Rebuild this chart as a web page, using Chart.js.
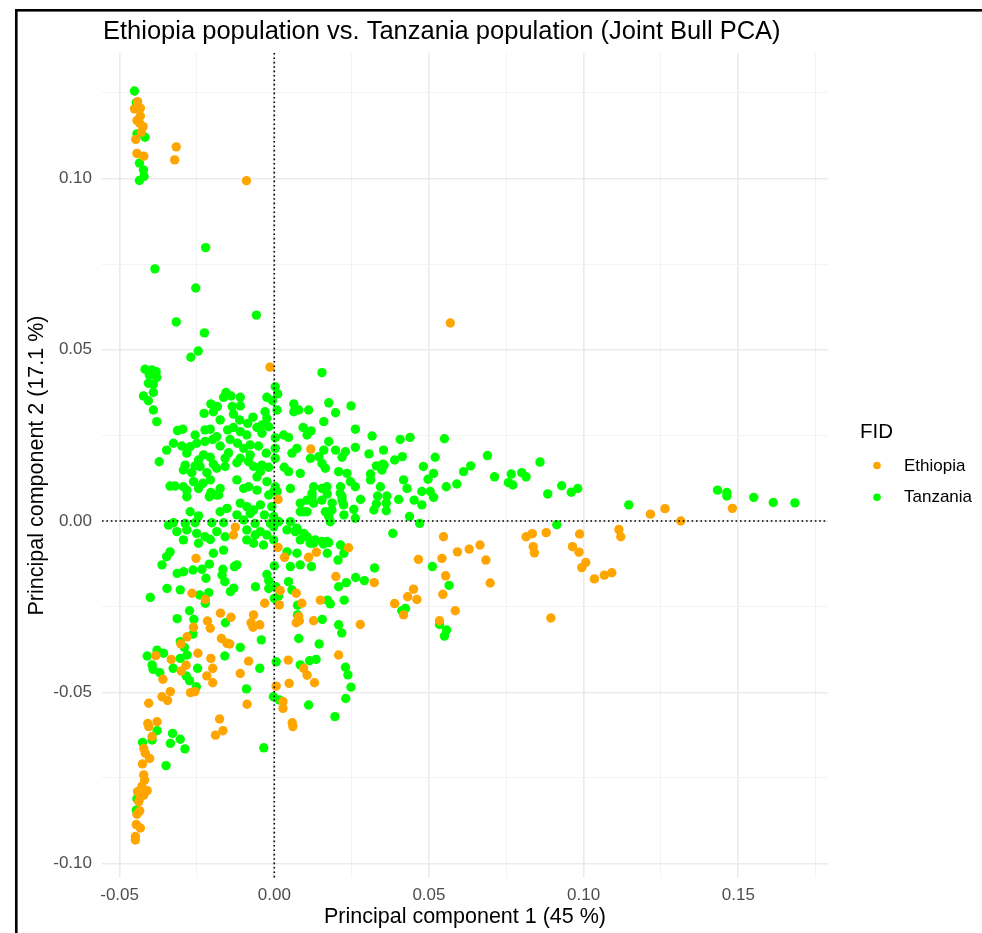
<!DOCTYPE html>
<html>
<head>
<meta charset="utf-8">
<script src="https://cdn.jsdelivr.net/npm/chart.js@4.4.1/dist/chart.umd.min.js"></script>
<style>
  html, body { margin: 0; padding: 0; background: #fff; }
  canvas { display: block; }
</style>
</head>
<body>
<canvas id="pca" width="982" height="933"></canvas>
<script>
// [PC1, PC2] per sample
const ethiopia = [
  [-0.0442,0.1224],[-0.0452,0.1203],[-0.0433,0.1205],[-0.0433,0.1182],[-0.0444,0.1169],[-0.0435,0.1161],
  [-0.0424,0.1151],[-0.0430,0.1135],[-0.0448,0.1114],[-0.0444,0.1073],[-0.0422,0.1065],[-0.0317,0.1092],
  [-0.0322,0.1054],[-0.0090,0.0993],[0.0569,0.0578],
  [-0.0014,0.0449],[0.0118,0.0210],[0.0012,0.0063],[-0.0126,-0.0018],[-0.0132,-0.0041],[0.0012,-0.0077],
  [0.0136,-0.0091],[0.0033,-0.0106],[0.0111,-0.0106],[-0.0253,-0.0109],[0.0240,-0.0078],
  [0.0547,-0.0046],[0.0592,-0.0090],[0.0630,-0.0082],[0.0665,-0.0070],[0.0542,-0.0109],[0.0466,-0.0112],[0.0684,-0.0114],
  [0.1481,0.0037],[0.1314,0.0000],[0.1263,0.0036],[0.1216,0.0020],[0.1114,-0.0025],[0.1120,-0.0046],
  [0.1035,-0.0169],[0.1067,-0.0158],[0.1091,-0.0151],[0.0987,-0.0038],[0.0964,-0.0075],[0.0985,-0.0091],
  [0.1007,-0.0121],[0.0994,-0.0136],[0.0894,-0.0283],[0.0879,-0.0034],[0.0834,-0.0037],[0.0814,-0.0046],
  [0.0837,-0.0075],[0.0841,-0.0093],[0.0698,-0.0181],[0.0554,-0.0160],[0.0545,-0.0214],[0.0585,-0.0262],
  [0.0534,-0.0291],[0.0450,-0.0199],[0.0461,-0.0229],[0.0431,-0.0221],[0.0389,-0.0241],[0.0418,-0.0274],
  [0.0323,-0.0180],
  [-0.0266,-0.0211],[-0.0223,-0.0229],[-0.0174,-0.0269],[-0.0140,-0.0281],[-0.0216,-0.0292],[-0.0207,-0.0313],
  [-0.0261,-0.0310],[-0.0282,-0.0338],[-0.0302,-0.0359],[-0.0171,-0.0343],[-0.0153,-0.0357],[-0.0144,-0.0359],
  [-0.0067,-0.0274],[-0.0075,-0.0297],[-0.0069,-0.0310],[-0.0047,-0.0303],[-0.0031,-0.0240],[0.0016,-0.0245],
  [0.0019,-0.0203],[0.0199,-0.0162],[0.0071,-0.0211],[0.0089,-0.0240],[0.0149,-0.0231],[0.0079,-0.0279],
  [0.0081,-0.0291],[0.0071,-0.0297],[0.0127,-0.0291],[0.0278,-0.0302],[0.0045,-0.0406],[0.0095,-0.0430],
  [0.0106,-0.0450],[0.0130,-0.0472],[0.0048,-0.0474],[0.0006,-0.0482],[0.0028,-0.0527],[0.0028,-0.0547],
  [0.0058,-0.0589],[0.0060,-0.0600],[0.0208,-0.0391],[-0.0083,-0.0409],[-0.0110,-0.0445],[-0.0088,-0.0535],
  [-0.0177,-0.0578],[-0.0166,-0.0612],[-0.0190,-0.0625],[-0.0333,-0.0404],[-0.0383,-0.0393],[-0.0247,-0.0386],
  [-0.0205,-0.0401],[-0.0199,-0.0430],[-0.0285,-0.0421],[-0.0301,-0.0438],[-0.0218,-0.0452],[-0.0199,-0.0472],
  [-0.0360,-0.0462],[-0.0336,-0.0498],[-0.0363,-0.0513],[-0.0345,-0.0524],[-0.0271,-0.0501],[-0.0257,-0.0498],
  [-0.0406,-0.0532],[-0.0409,-0.0591],[-0.0379,-0.0586],[-0.0406,-0.0600],[-0.0395,-0.0629],[-0.0422,-0.0664],
  [-0.0417,-0.0678],[-0.0403,-0.0693],
  [-0.0426,-0.0709],[-0.0422,-0.0741],[-0.0419,-0.0756],[-0.0428,-0.0774],[-0.0442,-0.0790],[-0.0411,-0.0787],
  [-0.0422,-0.0800],[-0.0433,-0.0805],[-0.0438,-0.0819],[-0.0435,-0.0846],[-0.0444,-0.0856],[-0.0446,-0.0886],
  [-0.0433,-0.0896],[-0.0449,-0.0921],[-0.0449,-0.0931]
];

const tanzania = [
  [-0.0452,0.1255],[-0.0446,0.1221],[-0.0444,0.1130],[-0.0418,0.1120],[-0.0436,0.1045],[-0.0423,0.1025],
  [-0.0421,0.1006],[-0.0436,0.0994],[-0.0222,0.0798],[-0.0386,0.0736],[-0.0254,0.0680],[-0.0317,0.0581],
  [-0.0058,0.0601],[-0.0226,0.0549],[-0.0246,0.0496],[-0.0270,0.0478],
  [-0.0418,0.0443],[-0.0396,0.0441],[-0.0382,0.0436],[-0.0404,0.0426],[-0.0380,0.0419],[-0.0407,0.0402],
  [-0.0391,0.0399],[-0.0391,0.0375],[-0.0423,0.0365],[-0.0407,0.0351],[-0.0391,0.0324],[-0.0380,0.0290],
  [0.0003,0.0392],[0.0011,0.0371],[-0.0156,0.0375],[-0.0164,0.0361],[-0.0140,0.0365],[-0.0110,0.0361],
  [-0.0024,0.0361],[-0.0006,0.0351],
  [-0.0205,0.0342],[-0.0184,0.0334],[-0.0136,0.0334],[-0.0110,0.0336],[-0.0227,0.0314],[-0.0197,0.0319],
  [-0.0175,0.0295],[-0.0132,0.0312],[-0.0112,0.0295],[-0.0086,0.0285],[-0.0069,0.0303],[-0.0030,0.0319],
  [-0.0024,0.0300],[0.0009,0.0324],[-0.0040,0.0280],[-0.0018,0.0275],[0.0063,0.0342],[0.0079,0.0324],
  [0.0063,0.0319],[0.0111,0.0324],[0.0176,0.0345],[0.0198,0.0316],[0.0248,0.0336],[0.0160,0.0290],[0.0154,0.0433],
  [-0.0313,0.0264],[-0.0296,0.0268],[-0.0256,0.0251],[-0.0224,0.0266],[-0.0207,0.0268],[-0.0186,0.0246],
  [-0.0151,0.0266],[-0.0132,0.0273],[-0.0110,0.0261],[-0.0089,0.0251],[-0.0056,0.0273],[-0.0040,0.0256],
  [0.0003,0.0243],[0.0030,0.0251],[0.0046,0.0244],[0.0093,0.0273],[0.0119,0.0263],[0.0106,0.0251],
  [0.0262,0.0268],[0.0316,0.0248],[0.0176,0.0232],
  [-0.0348,0.0207],[-0.0326,0.0227],[-0.0299,0.0219],[-0.0272,0.0217],[-0.0251,0.0227],[-0.0224,0.0232],
  [-0.0199,0.0238],[-0.0175,0.0219],[-0.0143,0.0238],[-0.0119,0.0227],[-0.0099,0.0212],[-0.0078,0.0222],
  [-0.0051,0.0219],[-0.0026,0.0198],[0.0003,0.0212],[-0.0148,0.0199],[-0.0159,0.0183],[-0.0207,0.0186],
  [-0.0229,0.0193],[-0.0245,0.0178],[-0.0283,0.0198],[-0.0372,0.0173],[-0.0288,0.0163],[-0.0256,0.0161],
  [-0.0197,0.0166],[-0.0110,0.0183],[-0.0078,0.0193],[-0.0040,0.0163],[0.0003,0.0183],[0.0057,0.0198],
  [0.0073,0.0212],[0.0117,0.0183],[0.0144,0.0188],[0.0160,0.0207],[0.0198,0.0207],[0.0219,0.0186],
  [0.0230,0.0202],[0.0262,0.0215],[0.0306,0.0196],
  [-0.0294,0.0149],[-0.0267,0.0141],[-0.0240,0.0159],[-0.0218,0.0141],[-0.0186,0.0154],[-0.0159,0.0159],
  [-0.0121,0.0170],[-0.0083,0.0173],[-0.0067,0.0159],[-0.0045,0.0144],[-0.0018,0.0157],[0.0032,0.0157],
  [0.0046,0.0144],[0.0084,0.0139],[0.0154,0.0168],[0.0165,0.0154],[0.0235,0.0139],[0.0208,0.0144],
  [0.0311,0.0137],[0.0330,0.0161],
  [-0.0056,0.0129],[-0.0083,0.0100],[-0.0121,0.0120],[-0.0207,0.0120],[-0.0231,0.0110],[-0.0261,0.0115],
  [-0.0294,0.0100],[-0.0337,0.0102],[-0.0321,0.0102],[-0.0283,0.0090],[-0.0245,0.0095],[-0.0175,0.0095],
  [-0.0205,0.0083],[-0.0186,0.0076],[-0.0099,0.0095],[-0.0056,0.0090],[-0.0024,0.0115],[0.0003,0.0100],
  [-0.0002,0.0086],[0.0052,0.0095],[0.0127,0.0100],[0.0154,0.0095],[0.0171,0.0079],[0.0214,0.0100],
  [0.0219,0.0071],[0.0262,0.0100],[0.0311,0.0120],[0.0343,0.0100],
  [-0.0283,0.0071],[-0.0210,0.0071],[-0.0180,0.0076],[-0.0110,0.0052],[-0.0089,0.0042],[-0.0067,0.0032],
  [-0.0045,0.0047],[-0.0018,0.0076],[0.0009,0.0086],[-0.0008,0.0042],[0.0084,0.0052],[0.0106,0.0061],
  [0.0122,0.0071],[0.0095,0.0027],[0.0127,0.0052],[0.0187,0.0052],[0.0165,0.0027],[0.0225,0.0018],
  [0.0257,0.0034],[0.0279,0.0063],[0.0322,0.0032],
  [-0.0272,0.0027],[-0.0245,0.0015],[-0.0175,0.0027],[-0.0153,0.0037],[-0.0121,0.0018],[-0.0099,0.0003],
  [-0.0078,0.0022],[-0.0032,0.0018],[-0.0002,0.0013],[0.0014,-0.0002],[0.0052,-0.0002],[0.0181,-0.0002],
  [-0.0256,-0.0005],[-0.0326,-0.0005],[-0.0342,-0.0012],[-0.0288,-0.0007],[-0.0202,-0.0005],[-0.0164,-0.0005],
  [-0.0062,-0.0007],[-0.0013,-0.0007],
  [-0.0315,-0.0031],[-0.0283,-0.0026],[-0.0251,-0.0036],[-0.0224,-0.0046],[-0.0186,-0.0031],[-0.0159,-0.0046],
  [-0.0089,-0.0026],[-0.0062,-0.0041],[-0.0045,-0.0031],[-0.0024,-0.0041],[-0.0002,-0.0017],[-0.0002,-0.0055],
  [0.0041,-0.0026],[0.0068,-0.0031],[0.0084,-0.0055],[0.0106,-0.0046],[0.0127,-0.0065],[0.0154,-0.0060],
  [0.0176,-0.0063],[0.0214,-0.0070],[0.0225,-0.0094],[0.0171,-0.0094],[0.0073,-0.0094],[0.0041,-0.0090],
  [-0.0337,-0.0090],[-0.0348,-0.0104],[-0.0294,-0.0055],[-0.0245,-0.0065],[-0.0207,-0.0054],[-0.0164,-0.0085],
  [-0.0197,-0.0094],[-0.0089,-0.0055],[-0.0067,-0.0065],[-0.0035,-0.0070],
  [0.0353,0.0207],[0.0351,0.0166],[0.0355,0.0163],[0.0348,0.0149],[0.0389,0.0178],[0.0414,0.0188],
  [0.0407,0.0238],[0.0439,0.0244],[0.0550,0.0240],[0.0520,0.0186],[0.0482,0.0159],[0.0515,0.0139],
  [0.0497,0.0122],[0.0418,0.0120],[0.0429,0.0095],[0.0556,0.0100],[0.0590,0.0108],[0.0612,0.0144],
  [0.0635,0.0161],[0.0689,0.0191],[0.0712,0.0129],[0.0477,0.0086],[0.0504,0.0086],[0.0515,0.0069],
  [0.0452,0.0061],[0.0402,0.0063],[0.0477,0.0047],[0.0437,0.0013],[0.0470,-0.0007],[0.0383,-0.0036],
  [0.0334,0.0073],[0.0364,0.0073],[0.0362,0.0052],[0.0330,0.0050],[0.0362,0.0030],
  [0.0170,0.0100],[0.0122,0.0081],[0.0154,0.0061],[0.0186,0.0032],[0.0176,0.0013],[0.0213,0.0081],
  [0.0219,0.0061],[0.0224,0.0047],[0.0246,0.0115],[0.0262,0.0008],[0.0084,0.0027],[0.0106,0.0027],
  [0.0073,-0.0021],[0.0095,-0.0036],[0.0116,-0.0065],[0.0132,-0.0055],[0.0159,-0.0067],[0.0170,-0.0060],
  [0.0859,0.0172],[0.0929,0.0103],[0.0960,0.0084],[0.0981,0.0095],[0.0884,0.0079],[0.0913,-0.0011],
  [0.1146,0.0047],[0.1433,0.0090],[0.1463,0.0083],[0.1463,0.0073],[0.1550,0.0069],[0.1613,0.0054],
  [0.1683,0.0053],[0.0800,0.0141],[0.0814,0.0129],[0.0766,0.0137],[0.0757,0.0112],[0.0771,0.0105],
  [0.0424,-0.0255],[0.0412,-0.0262],[0.0511,-0.0133],[0.0565,-0.0188],[0.0534,-0.0302],[0.0557,-0.0318],
  [0.0550,-0.0336],[0.0324,-0.0137],
  [-0.0363,-0.0128],[-0.0314,-0.0153],[-0.0293,-0.0148],[-0.0263,-0.0143],[-0.0234,-0.0141],[-0.0210,-0.0126],
  [-0.0221,-0.0167],[-0.0166,-0.0141],[-0.0169,-0.0158],[-0.0129,-0.0133],[-0.0121,-0.0128],[-0.0160,-0.0177],
  [-0.0142,-0.0206],[-0.0131,-0.0196],[-0.0061,-0.0192],[-0.0024,-0.0156],[-0.0018,-0.0174],[-0.0018,-0.0197],
  [0.0000,-0.0131],[0.0005,-0.0192],[0.0014,-0.0219],[0.0000,-0.0226],[0.0046,-0.0177],[0.0057,-0.0201],
  [0.0052,-0.0133],[0.0084,-0.0128],[0.0120,-0.0133],[0.0075,-0.0246],[0.0075,-0.0274],[0.0079,-0.0343],
  [0.0084,-0.0420],[0.0114,-0.0408],[0.0135,-0.0404],[0.0145,-0.0359],[0.0155,-0.0287],[0.0172,-0.0231],
  [0.0181,-0.0242],[0.0208,-0.0192],[0.0226,-0.0231],[0.0233,-0.0180],[0.0263,-0.0165],[0.0291,-0.0174],
  [0.0208,-0.0303],[0.0218,-0.0327],[0.0206,-0.0114],[0.0230,-0.0427],[0.0238,-0.0449],[0.0248,-0.0485],
  [0.0231,-0.0518],[0.0196,-0.0571],[0.0111,-0.0537],[0.0006,-0.0411],[-0.0003,-0.0513],[0.0016,-0.0522],
  [-0.0034,-0.0662],[-0.0090,-0.0490],[-0.0047,-0.0430],[-0.0042,-0.0347],[-0.0110,-0.0369],[-0.0160,-0.0394],
  [-0.0248,-0.0430],[-0.0274,-0.0466],[-0.0252,-0.0484],[-0.0263,-0.0330],[-0.0274,-0.0262],[-0.0314,-0.0285],
  [-0.0260,-0.0287],[-0.0304,-0.0352],[-0.0291,-0.0369],[-0.0282,-0.0391],[-0.0158,-0.0297],[-0.0401,-0.0223],
  [-0.0347,-0.0197],[-0.0304,-0.0201],[-0.0241,-0.0216],[-0.0212,-0.0209],[-0.0223,-0.0240],[-0.0379,-0.0377],
  [-0.0358,-0.0386],[-0.0411,-0.0394],[-0.0395,-0.0420],[-0.0392,-0.0433],[-0.0370,-0.0443],[-0.0327,-0.0430],
  [-0.0285,-0.0452],[-0.0304,-0.0401],[-0.0379,-0.0612],[-0.0329,-0.0620],[-0.0336,-0.0649],[-0.0304,-0.0637],
  [-0.0289,-0.0665],[-0.0426,-0.0646],[-0.0395,-0.0639],
  [-0.0350,-0.0714],[-0.0444,-0.0811],[-0.0446,-0.0844]
];

const xTicks = [-0.05, -0.025, 0, 0.025, 0.05, 0.075, 0.1, 0.125, 0.15, 0.175];
const yTicks = [-0.1, -0.075, -0.05, -0.025, 0, 0.025, 0.05, 0.075, 0.1, 0.125];
const groups = ["Ethiopia", "Tanzania"];
const colors = { Ethiopia: "#FFA500", Tanzania: "#00FF00" };

const FONT = "'Liberation Sans', Arial, sans-serif";
const isMajor = v => Math.abs(Math.round(v / 0.05) * 0.05 - v) < 1e-9;

const gridColor = c => (c.tick && isMajor(c.tick.value) ? "#ebebeb" : "#f3f3f3");
const gridWidth = c => (c.tick && isMajor(c.tick.value) ? 1.6 : 1);

const extras = {
  id: "extras",
  afterDatasetsDraw(chart) {
    const { ctx, chartArea: a, scales: { x, y } } = chart;
    ctx.save();
    ctx.strokeStyle = "#000";
    ctx.lineWidth = 1.6;
    ctx.setLineDash([1.6, 2.8]);
    ctx.beginPath();
    const x0 = x.getPixelForValue(0);
    ctx.moveTo(x0, a.top);
    ctx.lineTo(x0, a.bottom);
    const y0 = y.getPixelForValue(0);
    ctx.moveTo(a.left, y0);
    ctx.lineTo(a.right, y0);
    ctx.stroke();
    ctx.restore();
  },
  afterDraw(chart) {
    const { ctx } = chart;
    ctx.save();
    // frame
    ctx.strokeStyle = "#000";
    ctx.lineWidth = 2.6;
    ctx.strokeRect(16.3, 10.3, 2000, 2000);
    // title
    ctx.fillStyle = "#000";
    ctx.font = "25.5px " + FONT;
    ctx.textBaseline = "alphabetic";
    ctx.fillText("Ethiopia population vs. Tanzania population (Joint Bull PCA)", 103, 39);
    // legend
    ctx.font = "20.5px " + FONT;
    ctx.fillText("FID", 860, 437.5);
    ctx.font = "17px " + FONT;
    groups.forEach((g, i) => {
      const cy = 465.5 + i * 31.7;
      ctx.fillStyle = colors[g];
      ctx.beginPath();
      ctx.arc(877, cy, 3.8, 0, Math.PI * 2);
      ctx.fill();
      ctx.fillStyle = "#000";
      ctx.textBaseline = "middle";
      ctx.fillText(g, 904, cy + 0.5);
    });
    ctx.restore();
  }
};

const toPoints = arr => arr.map(([x, y]) => ({ x, y }));

new Chart(document.getElementById("pca"), {
  type: "scatter",
  data: {
    datasets: [
      { label: "Ethiopia", data: toPoints(ethiopia), backgroundColor: colors.Ethiopia,
        pointRadius: 4.7, pointHoverRadius: 4.7, pointBorderWidth: 0 },
      { label: "Tanzania", data: toPoints(tanzania), backgroundColor: colors.Tanzania,
        pointRadius: 4.7, pointHoverRadius: 4.7, pointBorderWidth: 0 }
    ]
  },
  options: {
    responsive: false,
    animation: false,
    events: [],
    layout: { padding: { left: 0, right: 154, top: 53, bottom: 0 } },
    plugins: { legend: { display: false }, tooltip: { enabled: false }, title: { display: false } },
    scales: {
      x: {
        type: "linear",
        min: -0.0557,
        max: 0.179,
        afterFit(s) { s.height = 55; },
        afterBuildTicks(s) { s.ticks = xTicks.map(v => ({ value: v })); },
        border: { display: false },
        grid: { color: gridColor, lineWidth: gridWidth, drawTicks: false },
        ticks: {
          autoSkip: false, maxRotation: 0, padding: 7, color: "#4d4d4d",
          font: { family: FONT, size: 17 },
          callback: v => (isMajor(v) ? v.toFixed(2) : "")
        },
        title: { display: true, text: "Principal component 1 (45 %)", color: "#000",
          font: { family: FONT, size: 21.5 }, padding: { top: 0, bottom: 3 } }
      },
      y: {
        type: "linear",
        min: -0.1042,
        max: 0.1366,
        afterFit(s) { s.width = 102; },
        afterBuildTicks(s) { s.ticks = yTicks.map(v => ({ value: v })); },
        border: { display: false },
        grid: { color: gridColor, lineWidth: gridWidth, drawTicks: false },
        ticks: {
          autoSkip: false, padding: 10, color: "#4d4d4d",
          font: { family: FONT, size: 17 },
          callback: v => (isMajor(v) ? v.toFixed(2) : "")
        },
        title: { display: true, text: "Principal component 2 (17.1 %)", color: "#000",
          font: { family: FONT, size: 21.5 }, padding: { top: 24, bottom: 0 } }
      }
    }
  },
  plugins: [extras]
});
</script>
</body>
</html>
